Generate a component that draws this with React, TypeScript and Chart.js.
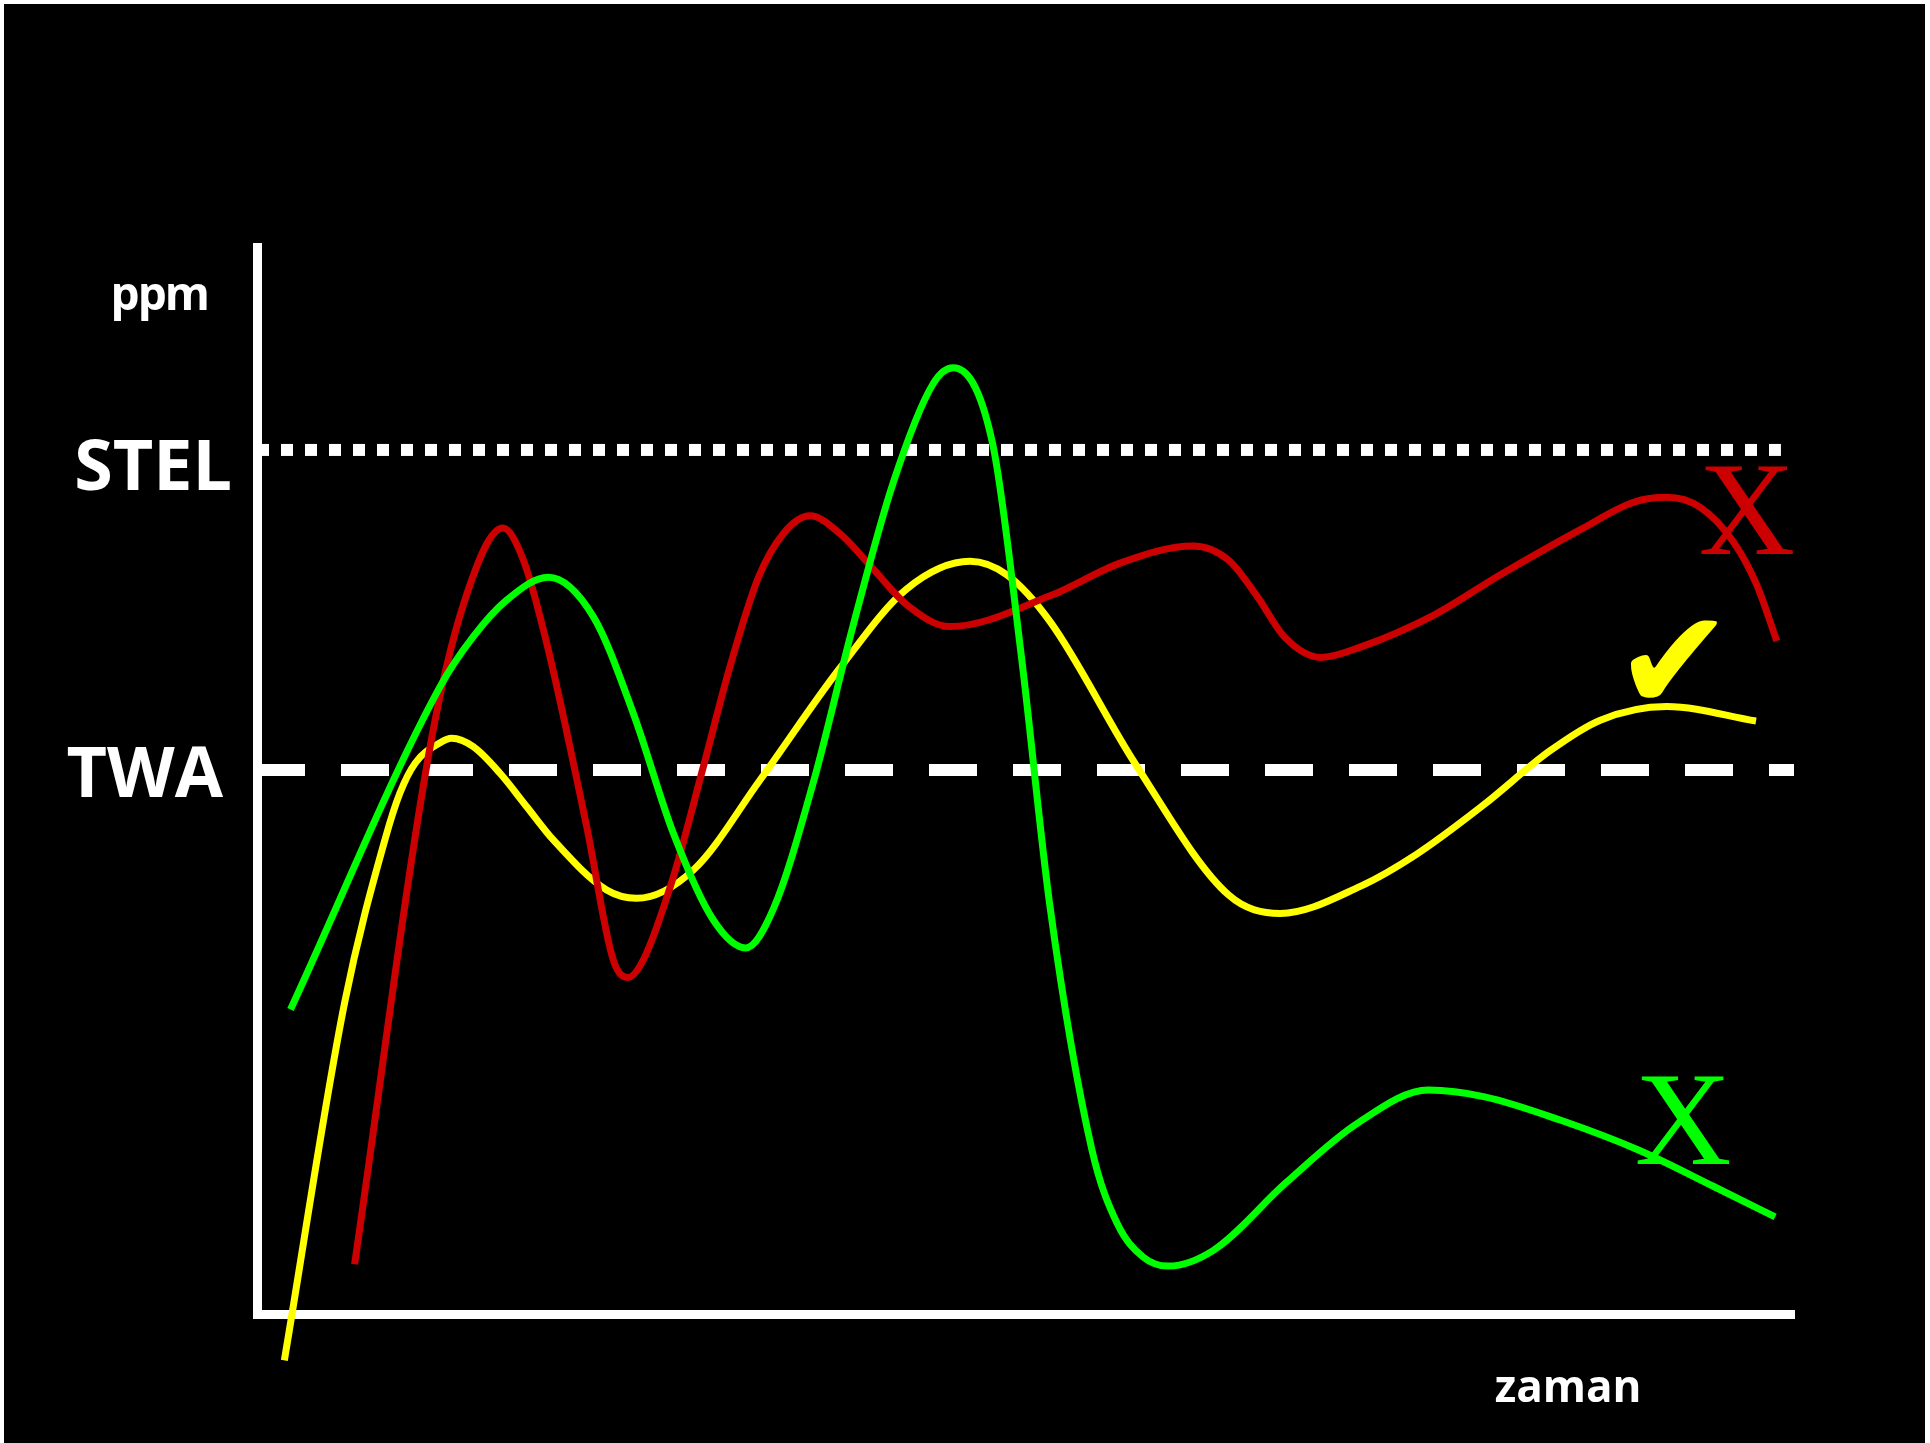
import React, { useEffect, useRef } from "react";
import { Chart, registerables } from "chart.js";

Chart.register(...registerables);

// ---- data (x = zaman, y = ppm, arbitrary units) ----
const yellowX = [1.78, 5.71, 8.35, 9.3, 10.3, 11.91, 12.67, 14.07, 15.81, 17.55, 19.28, 22.75, 24.7, 28.39, 32.73, 37.93, 42.27, 46.39, 48.79, 51.6, 57.17, 63.21, 66.57, 71.78, 75.46, 79.79, 84.11, 87.4, 91.72, 97.53];
const yellowY = [-4.32, 29.1, 44.37, 48.6, 51.4, 53.29, 53.7, 52.92, 50.44, 47.32, 44.22, 39.55, 38.78, 41.42, 49.81, 60.26, 67.63, 70.21, 68.94, 64.58, 51.26, 39.09, 37.37, 39.89, 42.9, 47.47, 52.52, 55.39, 56.66, 55.31];

const redX = [6.35, 11.28, 13.49, 16.0, 17.33, 18.85, 21.45, 23.18, 24.15, 25.13, 27.09, 29.04, 30.77, 32.62, 34.24, 35.98, 37.93, 40.1, 42.27, 45.09, 51.6, 56.24, 60.89, 63.21, 65.05, 66.89, 69.22, 71.78, 76.51, 80.87, 86.28, 89.56, 91.72, 93.88, 96.05, 97.57, 98.88];
const redY = [4.64, 53.06, 66.45, 73.31, 70.34, 62.57, 45.46, 33.02, 31.4, 33.02, 40.79, 51.05, 60.38, 68.7, 72.79, 74.45, 72.79, 69.48, 66.16, 64.12, 66.99, 70.09, 71.64, 70.32, 66.99, 63.09, 61.25, 62.21, 65.15, 68.94, 73.31, 75.72, 76.18, 75.26, 72.04, 68.03, 62.78];

const greenX = [2.18, 11.91, 14.07, 16.25, 18.95, 21.88, 24.48, 27.09, 29.69, 31.8, 33.59, 36.19, 38.8, 41.4, 44.0, 45.3, 47.87, 49.72, 51.6, 54.32, 55.96, 57.64, 59.29, 62.25, 66.93, 71.59, 76.22, 79.87, 84.83, 89.84, 94.81, 98.77];
const greenY = [28.41, 58.52, 63.18, 66.6, 68.72, 65.05, 56.04, 44.84, 36.75, 34.15, 37.76, 49.56, 64.31, 77.58, 86.8, 88.27, 81.12, 61.48, 37.94, 15.32, 8.46, 5.33, 4.47, 5.96, 12.22, 17.78, 20.89, 20.26, 18.07, 15.32, 11.87, 9.06];

const stelLevel = 80.6;
const twaLevel = 50.75;
const stelRange = [0, 99.15];
const twaRange = [0, 100];

const yTickLabels = ["ppm", "STEL", "TWA"];
const yTickValues = [94.9, stelLevel, twaLevel];
const xTickLabels = ["zaman"];
const xTickValues = [85.3];

const markTexts = ["X", "\u2714", "X"];
const markX = [96.94, 92.2, 92.78];
const markY = [74.2, 59.8, 17.3];

// ---- styles ----
const yLabelStyle = [
  { size: 46, gap: 49, dy: 13, spacing: "-2px" },
  { size: 70, gap: 25, dy: 40, spacing: "0px" },
  { size: 70, gap: 34, dy: 27, spacing: "0px" },
];
const markStyle = [
  { color: "#cc0000", font: '134px "Liberation Serif"' },
  { color: "#ffff00", font: '142px "DejaVu Sans"' },
  { color: "#00ff00", font: '134px "Liberation Serif"' },
];

const toPts = (xs: number[], ys: number[]) => xs.map((x, i) => ({ x, y: ys[i] }));

const bgPlugin = {
  id: "bg",
  beforeDraw(chart: any) {
    const { ctx, width, height } = chart;
    ctx.save();
    ctx.fillStyle = "#ffffff";
    ctx.fillRect(0, 0, width, height);
    ctx.fillStyle = "#000000";
    ctx.fillRect(4, 4, width - 9, height - 4);
    ctx.restore();
  },
};

const textPlugin = {
  id: "texts",
  afterDatasetsDraw(chart: any) {
    const { ctx, chartArea } = chart;
    const xs = chart.scales.x;
    const ys = chart.scales.y;
    ctx.save();
    ctx.fillStyle = "#ffffff";
    ctx.textAlign = "right";
    ctx.textBaseline = "alphabetic";
    yTickLabels.forEach((t, i) => {
      const st = yLabelStyle[i];
      ctx.font = `bold ${st.size}px "Open Sans"`;
      (ctx as any).letterSpacing = st.spacing;
      ctx.fillText(t, chartArea.left - st.gap, ys.getPixelForValue(yTickValues[i]) + st.dy);
    });
    (ctx as any).letterSpacing = "0px";
    ctx.textAlign = "center";
    ctx.font = 'bold 44px "Open Sans"';
    xTickLabels.forEach((t, i) => {
      ctx.fillText(t, xs.getPixelForValue(xTickValues[i]), chartArea.bottom + 88);
    });
    ctx.textBaseline = "middle";
    markTexts.forEach((t, i) => {
      ctx.fillStyle = markStyle[i].color;
      ctx.font = markStyle[i].font;
      ctx.fillText(t, xs.getPixelForValue(markX[i]), ys.getPixelForValue(markY[i]));
    });
    ctx.restore();
  },
};

export default function App() {
  const ref = useRef<HTMLCanvasElement>(null);
  useEffect(() => {
    document.body.style.margin = "0";
    const canvas = ref.current!;
    const curve = (color: string, xs: number[], ys: number[], order: number) => ({
      data: toPts(xs, ys),
      borderColor: color,
      borderWidth: 7,
      pointRadius: 0,
      cubicInterpolationMode: "monotone",
      capBezierPoints: false,
      clip: false,
      fill: false,
      order,
    });
    const chart = new Chart(canvas, {
      type: "line",
      data: {
        datasets: [
          curve("#00ff00", greenX, greenY, 1),
          curve("#cc0000", redX, redY, 2),
          curve("#ffff00", yellowX, yellowY, 3),
          {
            data: toPts(stelRange, [stelLevel, stelLevel]),
            borderColor: "#ffffff",
            borderWidth: 12,
            borderDash: [12, 12],
            pointRadius: 0,
            tension: 0,
            order: 10,
          },
          {
            data: toPts(twaRange, [twaLevel, twaLevel]),
            borderColor: "#ffffff",
            borderWidth: 12,
            borderDash: [48, 36],
            pointRadius: 0,
            tension: 0,
            order: 11,
          },
        ] as any,
      },
      options: {
        animation: false,
        responsive: false,
        devicePixelRatio: 1,
        events: [],
        layout: { padding: { top: 247, right: 136, left: 0, bottom: 0 } },
        plugins: { legend: { display: false }, tooltip: { enabled: false }, title: { display: false } },
        scales: {
          x: {
            type: "linear",
            min: 0,
            max: 100,
            grid: { display: false, drawTicks: false },
            ticks: { display: false },
            border: { color: "#ffffff", width: 9 },
            afterFit: (s: any) => {
              s.height = 129;
            },
          },
          y: {
            type: "linear",
            min: 0,
            max: 99.53,
            grid: { display: false, drawTicks: false },
            ticks: { display: false },
            border: { color: "#ffffff", width: 9 },
            afterFit: (s: any) => {
              s.width = 257;
            },
          },
        },
      } as any,
      plugins: [bgPlugin, textPlugin],
    });
    return () => chart.destroy();
  }, []);
  return (
    <canvas
      ref={ref}
      width={1930}
      height={1443}
      style={{ display: "block", width: 1930, height: 1443 }}
    />
  );
}
